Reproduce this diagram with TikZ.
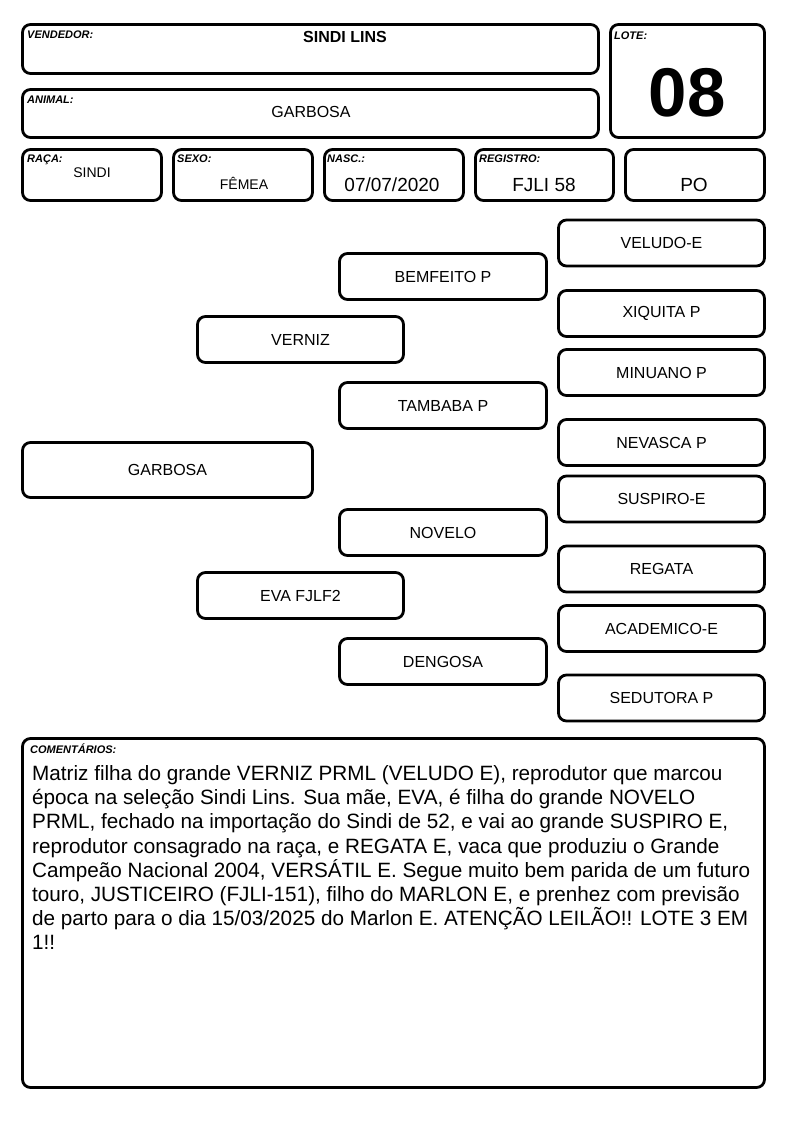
\documentclass[tikz,border=0pt]{standalone}
\usepackage{fontspec}
\setmainfont{Liberation Sans}
\usepackage{tikz}
\usetikzlibrary{positioning}

\begin{document}
\begin{tikzpicture}[x=1pt,y=-1pt,
    box/.style={draw, line width=2.8pt, rounded corners=8pt, inner sep=0pt},
    lbl/.style={font=\fontsize{11}{12}\selectfont\bfseries\itshape, anchor=base west, inner sep=0pt},
    val/.style={font=\fontsize{#1}{#1}\selectfont, anchor=base, inner sep=0pt},
    pedname/.style={box, font=\fontsize{16}{19}\selectfont},
    gen0/.style={pedname, minimum width=290, minimum height=55},
    gen1/.style={pedname, minimum width=206, minimum height=46},
    gen2/.style={pedname, minimum width=207, minimum height=46},
    gen3/.style={pedname, minimum width=206, minimum height=46}]
    \useasboundingbox (0,0) rectangle (794,1123);

    % Header
    \node[box, minimum width=576, minimum height=49] (vend) at (310.5,49) {};
    \node[lbl] (vendlbl) at (27,39) {VENDEDOR:};
    \node[val=16, font=\fontsize{16}{16}\selectfont\bfseries] (vendval) at (345,43) {SINDI LINS};

    \node[box, minimum width=576, minimum height=48] (animal) at (310.5,113.5) {};
    \node[lbl] (animallbl) at (27,104) {ANIMAL:};
    \node[val=16] (animalval) at (311,118) {GARBOSA};

    \node[box, minimum width=154, minimum height=113] (lote) at (687.5,81) {};
    \node[lbl] (lotelbl) at (614,40) {LOTE:};
    \node[val=69, font=\fontsize{69}{69}\selectfont\bfseries] (loteval) at (687,116.5) {08};

    % Data row
    \node[box, minimum width=139, minimum height=51] (raca) at (92,175) {};
    \node[lbl] (racalbl) at (27,163) {RAÇA:};
    \node[val=14] (racaval) at (92,178) {SINDI};

    \node[box, minimum width=139, minimum height=51] (sexo) at (243,175) {};
    \node[lbl] (sexolbl) at (177,163) {SEXO:};
    \node[val=14] (sexoval) at (244,190) {FÊMEA};

    \node[box, minimum width=139, minimum height=51] (nasc) at (394,175) {};
    \node[lbl] (nasclbl) at (327,163) {NASC.:};
    \node[val=19] (nascval) at (392,191.5) {07/07/2020};

    \node[box, minimum width=138, minimum height=51] (reg) at (544.5,175) {};
    \node[lbl] (reglbl) at (479,163) {REGISTRO:};
    \node[val=19] (regval) at (544,191.5) {FJLI 58};

    \node[box, minimum width=139, minimum height=51] (po) at (695,175) {};
    \node[val=19] (poval) at (694,191.5) {PO};

    % Pedigree
    \node[gen0] (garbosa) at (167.5,470) {GARBOSA};

    \node[gen1] (verniz) at (300.5,339.5) {VERNIZ};
    \node[gen1] (eva) at (300.5,595.5) {EVA FJLF2};

    \node[gen2] (bemfeito) at (443,276.5) {BEMFEITO P};
    \node[gen2] (tambaba) at (443,405.5) {TAMBABA P};
    \node[gen2] (novelo) at (443,532.5) {NOVELO};
    \node[gen2] (dengosa) at (443,661.5) {DENGOSA};

    \node[gen3] (veludo) at (661.5,243) {VELUDO-E};
    \node[gen3] (xiquita) at (661.5,313.5) {XIQUITA P};
    \node[gen3] (minuano) at (661.5,372.5) {MINUANO P};
    \node[gen3] (nevasca) at (661.5,442.5) {NEVASCA P};
    \node[gen3] (suspiro) at (661.5,499) {SUSPIRO-E};
    \node[gen3] (regata) at (661.5,569) {REGATA};
    \node[gen3] (academico) at (661.5,628.5) {ACADEMICO-E};
    \node[gen3] (sedutora) at (661.5,698) {SEDUTORA P};

    % Comments
    \node[box, minimum width=742, minimum height=349] (coment) at (393.5,913) {};
    \node[lbl] (comentlbl) at (30,753) {COMENTÁRIOS:};
    \node[anchor=north west, inner sep=0pt, align=left,
          font=\fontsize{20.7}{24.1}\selectfont] (comenttxt) at (32,765.5) {%
        Matriz filha do grande VERNIZ PRML (VELUDO E), reprodutor que marcou\\
        época na seleção Sindi Lins. Sua mãe, EVA, é filha do grande NOVELO\\
        PRML, fechado na importação do Sindi de 52, e vai ao grande SUSPIRO E,\\
        reprodutor consagrado na raça, e REGATA E, vaca que produziu o Grande\\
        Campeão Nacional 2004, VERSÁTIL E. Segue muito bem parida de um futuro\\
        touro, JUSTICEIRO (FJLI-151), filho do MARLON E, e prenhez com previsão\\
        de parto para o dia 15/03/2025 do Marlon E. ATENÇÃO LEILÃO!! LOTE 3 EM\\
        1!!};
\end{tikzpicture}
\end{document}
